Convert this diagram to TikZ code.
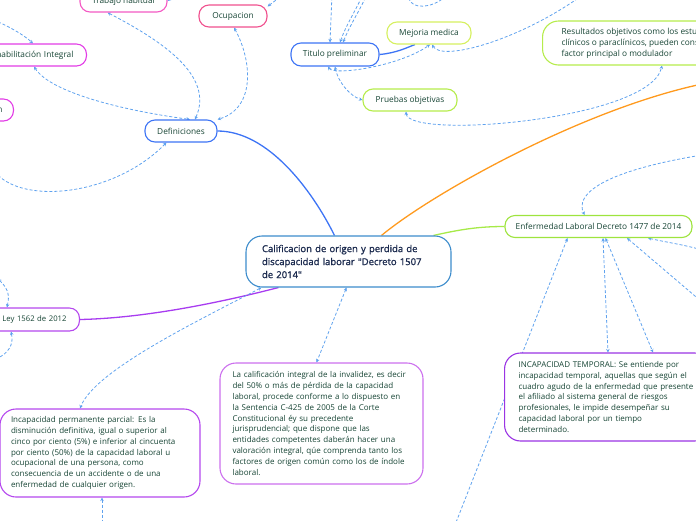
\documentclass[tikz,border=0pt]{standalone}
\usepackage{fontspec}
\setmainfont{Open Sans}
\newfontfamily\hubfont{Open Sans}[FakeBold=1.2]
\usepackage{xcolor}
\usetikzlibrary{arrows.meta,positioning,calc,backgrounds}

\definecolor{leaftext}{HTML}{174535}
\definecolor{hubtext}{HTML}{1C2B4F}
\definecolor{hubline}{HTML}{3C8CCC}
\definecolor{relblue}{HTML}{5FA2EE}
\definecolor{tblue}{HTML}{3D74F5}
\definecolor{torange}{HTML}{FF9A1E}
\definecolor{tlime}{HTML}{A6EA48}
\definecolor{tpurple}{HTML}{A83CF0}
\definecolor{pinkA}{HTML}{F45AC4}
\definecolor{pinkB}{HTML}{F0508E}
\definecolor{magA}{HTML}{E23CE6}
\definecolor{limeA}{HTML}{D6F060}
\definecolor{limeB}{HTML}{B6EC4C}
\definecolor{limeC}{HTML}{9EE43E}
\definecolor{violA}{HTML}{B548EE}
\definecolor{violB}{HTML}{CC70EE}
\definecolor{violC}{HTML}{9A34E4}

\begin{document}
\begin{tikzpicture}[
  x=1pt, y=-1pt,
  every node/.style={font=\fontsize{8.3}{10}\selectfont, text=leaftext},
  topic/.style={draw, line width=1.1pt, rounded corners=10pt, fill=white, minimum height=22pt, inner sep=0pt},
  topicl/.style={topic, anchor=east, align=right, inner xsep=13pt},
  note/.style={draw, line width=1.1pt, rounded corners=16pt, fill=white, align=left, inner xsep=12pt, inner ysep=0pt, font=\fontsize{8}{10.9}\selectfont},
  hub/.style={draw=hubline, line width=1.1pt, rounded corners=16pt, fill=white, align=left, inner xsep=16pt, font=\hubfont\fontsize{9.5}{13}\selectfont, text=hubtext},
  trunk/.style={line width=1.3pt},
  rel/.style={draw=relblue, line width=0.8pt, dash pattern=on 3pt off 2pt, {Stealth[length=3.5pt,width=3.5pt]}-{Stealth[length=3.5pt,width=3.5pt]}},
]
\useasboundingbox (0,0) rectangle (696,520);

\node[topic, draw=pinkA, minimum width=87pt] (trabajo) at (123.5,1) {Trabajo habitual};
\node[topic, draw=pinkB, minimum width=68pt] (ocupacion) at (233,16) {Ocupacion};
\node[topicl, draw=magA, text width=100pt] (rehab) at (87,55) {Rehabilitación Integral};
\node[topicl, draw=magA, text width=40pt, inner xsep=11pt] (otro) at (14,110) {n};
\node[topic, draw=tblue, minimum width=72pt] (defin) at (181,131) {Definiciones};
\node[topic, draw=tblue, minimum width=88pt, minimum height=23pt] (titulo) at (335,54.5) {Titulo preliminar};
\node[topic, draw=limeA, minimum width=84pt] (mejoria) at (429,33) {Mejoria medica};
\node[topic, draw=limeB, minimum width=94pt] (pruebas) at (410,100) {Pruebas objetivas};
\node[note, draw=limeB, anchor=west, minimum height=44pt, inner xsep=19pt, font=\fontsize{8.3}{11}\selectfont] (resultados) at (542,43)
  {Resultados objetivos como los estudios\\clínicos o paraclínicos, pueden considerarse\\factor principal o modulador};
\node[hub, text width=173pt, minimum height=51pt] (calif) at (348.5,261.5)
  {Calificacion de origen y perdida de\\discapacidad laborar "Decreto 1507\\de 2014"};
\node[topic, draw=limeC, minimum width=187pt] (enferm) at (598.5,226.5) {Enfermedad Laboral Decreto 1477 de 2014};
\node[topicl, draw=violA, text width=100pt, minimum height=23pt, font=\fontsize{7.7}{10}\selectfont] (ley) at (80,319.5) {o Ley 1562 de 2012};
\node[note, draw=violA, text width=178pt, inner xsep=11pt, minimum height=88pt] (incperm) at (100,453)
  {Incapacidad permanente parcial: Es la\\
   disminución definitiva, igual o superior al\\
   cinco por ciento (5\%) e inferior al cincuenta\\
   por ciento (50\%) de la capacidad laboral u\\
   ocupacional de una persona, como\\
   consecuencia de un accidente o de una\\
   enfermedad de cualquier origen.};
\node[note, draw=violB, text width=178pt, inner xsep=12.5pt, minimum height=121pt] (lacalif) at (321.5,423.5)
  {La calificación integral de la invalidez, es decir\\
   del 50\% o más de pérdida de la capacidad\\
   laboral, procede conforme a lo dispuesto en\\
   la Sentencia C-425 de 2005 de la Corte\\
   Constitucional éy su precedente\\
   jurisprudencial; que dispone que las\\
   entidades competentes daberán hacer una\\
   valoración integral, qúe comprenda tanto los\\
   factores de origen común como los de índole\\
   laboral.};
\node[note, draw=violC, anchor=west, text width=178pt, inner xsep=14pt, minimum height=88pt] (incap) at (504,397)
  {INCAPACIDAD TEMPORAL: Se entiende por\\
   incapacidad temporal, aquellas que según el\\
   cuadro agudo de la enfermedad que presente\\
   el afiliado al sistema general de riesgos\\
   profesionales, le impide desempeñar su\\
   capacidad laboral por un tiempo\\
   determinado.};

\coordinate (c-rehab) at (-4,21);
\coordinate (c-trab) at (178,-8);
\coordinate (c-ocup) at (284,-6);
\coordinate (c-defin) at (-5,172);
\coordinate (c-ley1) at (-2,279);
\coordinate (c-ley2) at (-4,359);
\coordinate (c-perm) at (102,526);
\coordinate (c-enf1) at (702,155);
\coordinate (c-enf2) at (455,525);
\coordinate (c-enf3) at (702,302);
\coordinate (c-enf4) at (702,250);
\coordinate (c-tit1) at (332,-6);
\coordinate (c-tit2) at (363,-6);
\coordinate (c-tit3) at (367,-6);
\coordinate (c-mej) at (584,-6);
\coordinate (c-top1) at (408,-4);
\coordinate (c-top2) at (446,-4);
\coordinate (c-orange) at (702,84);

\begin{scope}[on background layer]
\draw[trunk, tblue] ($(calif.north)+(-14,0)$) .. controls (312,190) and (268,131) .. (defin.east);
\draw[trunk, torange] ($(calif.north)+(33,0)$) .. controls (430,195) and (580,110) .. (c-orange);
\draw[trunk, tlime] ($(calif.north east)+(-18,0)$) .. controls (462,229) and (480,226.5) .. (enferm.west);
\draw[trunk, tpurple] ($(calif.south west)+(33,0)$) .. controls (230,300) and (150,318) .. (ley.east);
\draw[trunk, tblue] (titulo.east) .. controls (396,53) and (406,48) .. ($(mejoria.south)+(-14,0)$);

\draw[rel] ($(trabajo.south)+(-16,0)$) .. controls (160,40) and (215,75) .. ($(defin.north)+(14,0)$);
\draw[rel] ($(rehab.south east)+(-53,0)$) .. controls (50,92) and (120,110) .. ($(defin.north)+(9,0)$);
\draw[rel] ($(ocupacion.south)+(1,0)$) .. controls (252,60) and (256,108) .. (defin.north east);
\draw[rel] (c-rehab) .. controls (12,28) and (25,36) .. ($(rehab.north east)+(-54,0)$);
\draw[rel] (trabajo.east) -- (c-trab);
\draw[rel] ($(ocupacion.north east)+(0,2)$) -- (c-ocup);
\draw[rel] ($(defin.south west)+(22,0)$) .. controls (115,195) and (25,205) .. (c-defin);
\draw[rel] (c-ley1) .. controls (10,290) and (9,298) .. ($(ley.north east)+(-73,0)$);
\draw[rel] ($(ley.south east)+(-69,0)$) .. controls (14,345) and (8,353) .. (c-ley2);
\draw[rel] ($(calif.south west)+(16,0)$) .. controls (200,320) and (95,370) .. ($(incperm.north)+(-20,0)$);
\draw[rel] ($(incperm.south)+(2,0)$) -- (c-perm);
\draw[rel] ($(calif.south)+(-2,0)$) -- ($(lacalif.north)+(-5,0)$);
\draw[rel] (c-enf1) .. controls (600,172) and (575,195) .. ($(enferm.north)+(-14,0)$);
\draw[rel] ($(enferm.south)+(-31,0)$) -- (c-enf2);
\draw[rel] ($(enferm.south)+(4.5,0)$) -- ($(incap.north west)+(104,0)$);
\draw[rel] ($(enferm.south)+(7,0)$) -- ($(incap.north west)+(149,0)$);
\draw[rel] ($(enferm.south)+(28.5,0)$) -- (c-enf3);
\draw[rel] ($(enferm.south)+(49.5,0)$) .. controls (665,242) and (685,245) .. (c-enf4);
\draw[rel] ($(titulo.north)+(-5,0)$) -- (c-tit1);
\draw[rel] ($(titulo.north)+(5,0)$) .. controls (346,25) and (356,10) .. (c-tit2);
\draw[rel] ($(titulo.north)+(8,0)$) .. controls (350,25) and (360,10) .. (c-tit3);
\draw[rel] (titulo.south) .. controls (338,82) and (350,96) .. (pruebas.west);
\draw[rel] ($(titulo.south)+(-7,0)$) .. controls (334,76) and (400,66) .. ($(mejoria.south)+(1,0)$);
\draw[rel] ($(mejoria.south)+(3,0)$) .. controls (442,62) and (520,40) .. (c-mej);
\draw[rel] ($(pruebas.south)+(-4,0)$) .. controls (408,140) and (650,120) .. ($(resultados.south west)+(120,0)$);
\draw[rel] (c-top1) .. controls (412,10) and (432,8) .. (c-top2);
\end{scope}
\end{tikzpicture}
\end{document}
